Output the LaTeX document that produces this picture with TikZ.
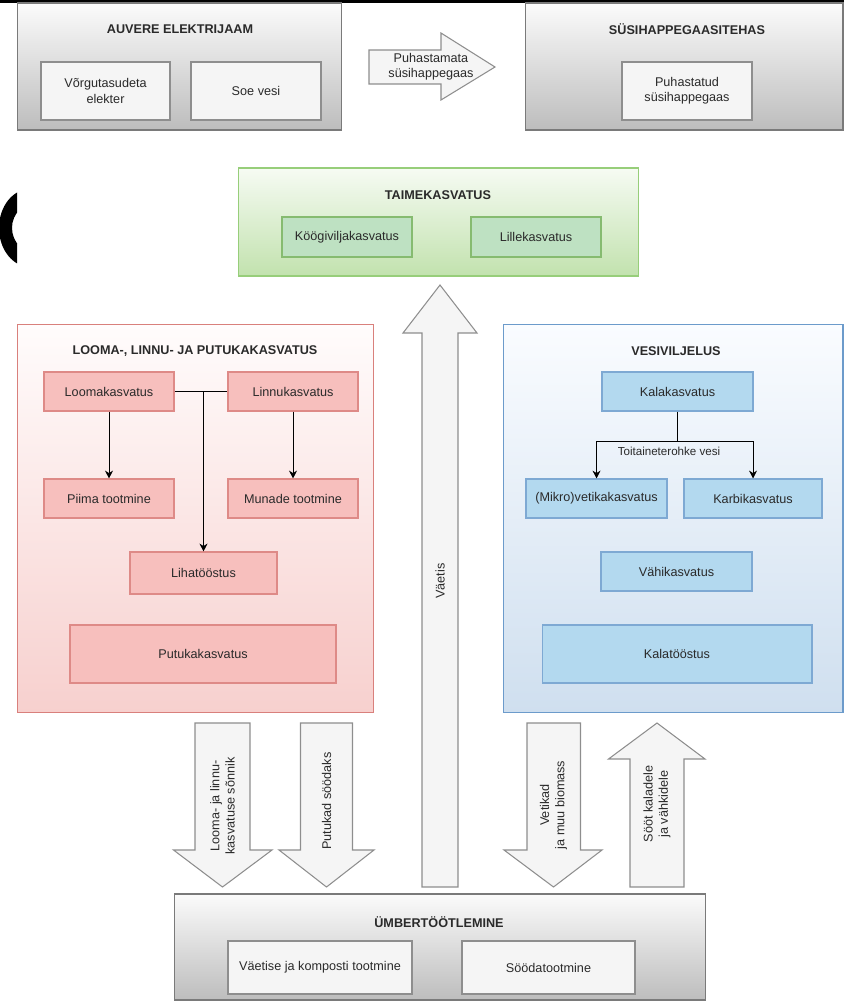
\documentclass[tikz,border=0pt]{standalone}
\usepackage{fontspec}
\setmainfont{Liberation Sans}
\usetikzlibrary{arrows.meta}

\definecolor{txt}{HTML}{2A2A2A}
\definecolor{graytop}{HTML}{FBFBFB}
\definecolor{graybot}{HTML}{BDBDBD}
\definecolor{graydraw}{HTML}{7A7A7A}
\definecolor{grayinner}{HTML}{8E8E8E}
\definecolor{grayfill}{HTML}{F5F5F5}
\definecolor{greentop}{HTML}{F6FBF3}
\definecolor{greenbot}{HTML}{C2E2AE}
\definecolor{greendraw}{HTML}{97CE7A}
\definecolor{greenfill}{HTML}{BEE1C2}
\definecolor{greeninner}{HTML}{86BB70}
\definecolor{redtop}{HTML}{FFFCFC}
\definecolor{redbot}{HTML}{F7D0CE}
\definecolor{reddraw}{HTML}{D9807C}
\definecolor{redfill}{HTML}{F7BFBD}
\definecolor{redinner}{HTML}{DE8A87}
\definecolor{bluetop}{HTML}{FAFCFF}
\definecolor{bluebot}{HTML}{CFDFEF}
\definecolor{bluedraw}{HTML}{6C9BCB}
\definecolor{bluefill}{HTML}{B3D9EF}
\definecolor{blueinner}{HTML}{7EA9D3}

\begin{document}
\begin{tikzpicture}[x=0.02cm,y=-0.02cm,
    every node/.style={font=\fontsize{7.2}{8.6}\selectfont,text=txt},
    outergray/.style={draw=graydraw,line width=0.6pt,top color=graytop,bottom color=graybot,inner sep=0pt},
    innergray/.style={draw=grayinner,line width=0.6pt,fill=grayfill,align=center,inner sep=0pt},
    outergreen/.style={draw=greendraw,line width=0.6pt,top color=greentop,bottom color=greenbot,inner sep=0pt},
    innergreen/.style={draw=greeninner,line width=0.6pt,fill=greenfill,inner sep=0pt},
    outerred/.style={draw=reddraw,line width=0.6pt,top color=redtop,bottom color=redbot,inner sep=0pt},
    innerred/.style={draw=redinner,line width=0.6pt,fill=redfill,inner sep=0pt},
    outerblue/.style={draw=bluedraw,line width=0.6pt,top color=bluetop,bottom color=bluebot,inner sep=0pt},
    innerblue/.style={draw=blueinner,line width=0.6pt,fill=bluefill,inner sep=0pt},
    boxtitle/.style={font=\fontsize{7.2}{8.6}\selectfont\bfseries},
    blockarrow/.style={draw=grayinner,line width=0.6pt,fill=grayfill,line join=miter},
    flow/.style={-{Stealth[length=4.5pt,width=4.5pt]},line width=0.5pt,black}]

    \useasboundingbox (0,0) rectangle (844,1001);
    \fill[black] (0,0) rectangle (844,3);
    \begin{scope}
        \clip (0,180) rectangle (17,280);
        \fill[black,even odd rule] (0.6cm,-4.56cm) ellipse [x radius=0.62cm,y radius=0.78cm]
            (0.76cm,-4.56cm) ellipse [x radius=0.52cm,y radius=0.52cm];
    \end{scope}

    % ylemine rida
    \node[outergray,minimum width=6.5cm,minimum height=2.54cm] (elektrijaam) at (179.5,66.5) {};
    \node[boxtitle] (elektrijaamtitle) at (180,29) {AUVERE ELEKTRIJAAM};
    \node[innergray,minimum width=2.58cm,minimum height=1.16cm] (elekter) at (105.5,91) {Võrgutasudeta\\elekter};
    \node[innergray,minimum width=2.6cm,minimum height=1.16cm] (soevesi) at (256,91) {Soe vesi};

    \node[outergray,minimum width=6.36cm,minimum height=2.54cm] (tehas) at (684,66.5) {};
    \node[boxtitle] (tehastitle) at (687,29) {SÜSIHAPPEGAASITEHAS};
    \node[innergray,minimum width=2.6cm,minimum height=1.16cm] (puhastatud) at (687,91) {Puhastatud\\süsihappegaas};

    \draw[blockarrow] (369,50) -- (441,50) -- (441,33) -- (495,67) -- (441,100) -- (441,84) -- (369,84) -- cycle;
    \node[align=center] (puhastamata) at (431,67) {Puhastamata\\süsihappegaas};

    % taimekasvatus
    \node[outergreen,minimum width=8cm,minimum height=2.16cm] (taime) at (438.5,222) {};
    \node[boxtitle] (taimetitle) at (438,195) {TAIMEKASVATUS};
    \node[innergreen,minimum width=2.6cm,minimum height=0.8cm] (kook) at (347,237) {Köögiviljakasvatus};
    \node[innergreen,minimum width=2.6cm,minimum height=0.8cm] (lill) at (536,237) {Lillekasvatus};

    % looma-, linnu- ja putukakasvatus
    \node[outerred,minimum width=7.13cm,minimum height=7.78cm] (loomad) at (195.75,518.5) {};
    \node[boxtitle] (loomadtitle) at (195,351) {LOOMA-, LINNU- JA PUTUKAKASVATUS};
    \node[innerred,minimum width=2.6cm,minimum height=0.78cm] (loomak) at (109,391.5) {Loomakasvatus};
    \node[innerred,minimum width=2.6cm,minimum height=0.78cm] (linnuk) at (293,391.5) {Linnukasvatus};
    \node[innerred,minimum width=2.6cm,minimum height=0.78cm] (piim) at (109,498.5) {Piima tootmine};
    \node[innerred,minimum width=2.6cm,minimum height=0.78cm] (muna) at (293,498.5) {Munade tootmine};
    \node[innerred,minimum width=2.94cm,minimum height=0.84cm] (liha) at (203.5,573) {Lihatööstus};
    \node[innerred,minimum width=5.32cm,minimum height=1.16cm] (putuk) at (203,654) {Putukakasvatus};
    \coordinate (lihajoin) at (203.5,391.5);
    \draw[line width=0.5pt] (loomak.east) -- (linnuk.west);
    \draw[flow] (lihajoin) -- (liha.north);
    \draw[flow] (loomak.south) -- (piim.north);
    \draw[flow] (linnuk.south) -- (muna.north);

    % vesiviljelus
    \node[outerblue,minimum width=6.8cm,minimum height=7.78cm] (vesi) at (673,518.5) {};
    \node[boxtitle] (vesititle) at (676,351) {VESIVILJELUS};
    \node[innerblue,minimum width=3.02cm,minimum height=0.78cm] (kala) at (677.5,391.5) {Kalakasvatus};
    \node[innerblue,minimum width=2.82cm,minimum height=0.78cm] (mikro) at (596.5,498.5) {(Mikro)vetikakasvatus};
    \node[innerblue,minimum width=2.76cm,minimum height=0.78cm] (karbi) at (753,498.5) {Karbikasvatus};
    \node[innerblue,minimum width=3.02cm,minimum height=0.78cm] (vahi) at (676.5,571.5) {Vähikasvatus};
    \node[innerblue,minimum width=5.4cm,minimum height=1.16cm] (kalat) at (677,654) {Kalatööstus};
    \coordinate (kalasplit) at (677.5,441);
    \draw[line width=0.5pt] (kala.south) -- (kalasplit);
    \draw[flow] (kalasplit) -| (mikro.north);
    \draw[flow] (kalasplit) -| (karbi.north);
    \node[font=\fontsize{6.6}{8}\selectfont] (toitaine) at (669,451) {Toitaineterohke vesi};

    % suured nooled
    \draw[blockarrow] (422,887) -- (422,333) -- (403,333) -- (440,285) -- (477,333) -- (458,333) -- (458,887) -- cycle;
    \node[rotate=90] (vaetis) at (440,581) {Väetis};

    \draw[blockarrow] (195,723) -- (250,723) -- (250,850) -- (272,850) -- (222.5,887) -- (173.5,850) -- (195,850) -- cycle;
    \node[rotate=90,align=center] (sonnik) at (222.5,806) {Looma- ja linnu-\\kasvatuse sõnnik};

    \draw[blockarrow] (300.5,723) -- (352.5,723) -- (352.5,850) -- (374,850) -- (326.5,887) -- (279,850) -- (300.5,850) -- cycle;
    \node[rotate=90] (putukad) at (326.5,801) {Putukad söödaks};

    \draw[blockarrow] (527,723) -- (580.5,723) -- (580.5,850) -- (602,850) -- (553.5,887) -- (504,850) -- (527,850) -- cycle;
    \node[rotate=90,align=center] (vetikad) at (553.5,805) {Vetikad\\ja muu biomass};

    \draw[blockarrow] (630,887) -- (630,759) -- (608.5,759) -- (657,723) -- (705,759) -- (684,759) -- (684,887) -- cycle;
    \node[rotate=90,align=center] (soot) at (657,804) {Sööt kaladele\\ja vähkidele};

    % ümbertöötlemine
    \node[outergray,minimum width=10.64cm,minimum height=2.12cm] (umber) at (440,947) {};
    \node[boxtitle] (umbertitle) at (439,922) {ÜMBERTÖÖTLEMINE};
    \node[innergray,minimum width=3.68cm,minimum height=1.06cm] (vaetise) at (320,967.5) {Väetise ja komposti tootmine};
    \node[innergray,minimum width=3.46cm,minimum height=1.06cm] (sooda) at (548.5,967.5) {Söödatootmine};
\end{tikzpicture}
\end{document}
